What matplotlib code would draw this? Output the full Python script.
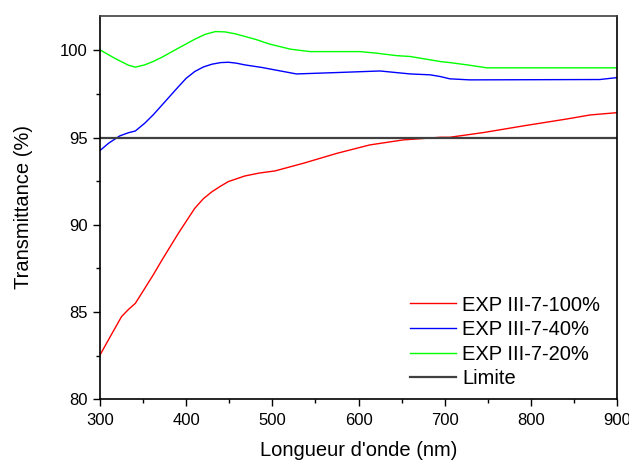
import matplotlib
matplotlib.use("Agg")
import matplotlib.pyplot as plt
from matplotlib.ticker import MultipleLocator

plt.rcParams['font.family'] = ['Liberation Sans', 'DejaVu Sans']

# Wavelength (nm) and transmittance (%)
wl_100 = [300, 313, 325, 333, 341, 352, 362, 372, 391, 410, 420, 430, 440, 449, 468, 485, 503, 536, 575, 613, 652, 695, 706, 745, 791, 842, 869, 900]
t_100 = [82.54, 83.69, 84.74, 85.15, 85.50, 86.36, 87.15, 87.99, 89.52, 90.95, 91.50, 91.90, 92.22, 92.48, 92.80, 92.97, 93.09, 93.53, 94.10, 94.58, 94.87, 95.02, 95.02, 95.29, 95.67, 96.07, 96.30, 96.43]

wl_40 = [300, 310, 323, 333, 341, 352, 362, 372, 391, 400, 410, 420, 430, 440, 449, 458, 468, 488, 503, 528, 575, 625, 660, 683, 695, 706, 729, 880, 900]
t_40 = [94.26, 94.68, 95.10, 95.28, 95.38, 95.83, 96.32, 96.87, 97.92, 98.40, 98.79, 99.05, 99.21, 99.30, 99.32, 99.27, 99.17, 99.02, 98.88, 98.65, 98.73, 98.82, 98.65, 98.60, 98.50, 98.37, 98.31, 98.33, 98.44]

wl_20 = [300, 317, 333, 341, 352, 362, 372, 391, 410, 422, 434, 445, 457, 480, 497, 521, 544, 602, 621, 644, 660, 683, 695, 706, 726, 749, 900]
t_20 = [100.03, 99.55, 99.15, 99.04, 99.17, 99.37, 99.61, 100.13, 100.64, 100.92, 101.08, 101.06, 100.95, 100.64, 100.36, 100.07, 99.93, 99.93, 99.84, 99.70, 99.65, 99.46, 99.36, 99.30, 99.17, 99.00, 99.00]

limit_value = 95
labels = ["EXP III-7-100%", "EXP III-7-40%", "EXP III-7-20%", "Limite"]

W, H = 629, 462
fig = plt.figure(figsize=(W / 100, H / 100), dpi=100)
ax = fig.add_axes([100 / W, (H - 399.3) / H, (617 - 100) / W, (399.3 - 15.5) / H])

l1, = ax.plot(wl_100, t_100, color='#ff0000', lw=1.0)
l2, = ax.plot(wl_40, t_40, color='#0000ff', lw=1.0)
l3, = ax.plot(wl_20, t_20, color='#00ff00', lw=1.0)
l4 = ax.axhline(limit_value, color='#404040', lw=1.6)

ax.set_xlim(300, 900)
ax.set_ylim(80, 102)
ax.xaxis.set_major_locator(MultipleLocator(100))
ax.xaxis.set_minor_locator(MultipleLocator(50))
ax.yaxis.set_major_locator(MultipleLocator(5))
ax.yaxis.set_minor_locator(MultipleLocator(2.5))

ax.tick_params(which='both', direction='out', top=False, right=False, width=1.0, labelsize=12)
ax.tick_params(which='major', length=5)
ax.tick_params(which='minor', length=3)
ax.tick_params(axis='x', pad=5)
ax.tick_params(axis='y', pad=4)
for s in ax.spines.values():
    s.set_linewidth(1.2)
ax.spines['top'].set_color('#404040')

ax.set_xlabel("Longueur d'onde (nm)", fontsize=14.5, labelpad=9.5)
ax.set_ylabel("Transmittance (%)", fontsize=14.5, labelpad=19)

fig.legend([l1, l2, l3, l4], labels, loc='center left',
           bbox_to_anchor=(410 / W, (H - 342) / H), frameon=False,
           fontsize=14.5, borderpad=0, handlelength=2.3, handletextpad=0.3,
           labelspacing=0.28, borderaxespad=0)

fig.savefig("out.png", dpi=100)
